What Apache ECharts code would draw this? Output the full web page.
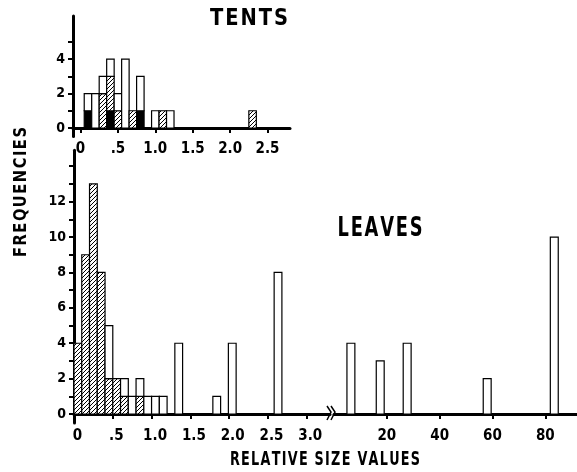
<!DOCTYPE html>
<html>
<head>
<meta charset="utf-8">
<script src="https://cdn.jsdelivr.net/npm/echarts@6/dist/echarts.min.js"></script>
<style>
  html, body { margin: 0; background: #fff; }
  #chart { width: 577px; height: 472px; }
</style>
</head>
<body>
<div id="chart"></div>
<script>
// TENTS: bin centres and counts per kind (stacked black / hatched / open)
var tentsBins    = [0.1, 0.2, 0.3, 0.4, 0.5, 0.6, 0.7, 0.8, 1.0, 1.1, 1.2, 2.3];
var tentsBlack   = [1, 0, 0, 1, 0, 0, 0, 1, 0, 0, 0, 0];
var tentsHatched = [0, 0, 2, 2, 1, 0, 1, 0, 0, 1, 0, 1];
var tentsOpen    = [1, 2, 1, 1, 1, 4, 0, 2, 1, 0, 1, 0];

// LEAVES, small values (0 - 3.0)
var leavesBins    = [0.05, 0.15, 0.25, 0.35, 0.45, 0.55, 0.65, 0.75, 0.85, 0.95, 1.05, 1.15, 1.35, 1.84, 2.04, 2.63];
var leavesHatched = [4, 9, 13, 8, 2, 2, 1, 0, 1, 0, 0, 0, 0, 0, 0, 0];
var leavesOpen    = [0, 0, 0, 0, 3, 0, 1, 1, 1, 1, 1, 1, 4, 1, 4, 8];

// LEAVES, large values (after the axis break)
var leavesFarBins = [6.4, 17.5, 27.7, 58, 83.4];
var leavesFar     = [4, 3, 4, 2, 10];

// ticks and labels
var tentsTicks  = [0, 0.5, 1, 1.5, 2, 2.5];
var leavesTicks = [0, 0.5, 1, 1.5, 2, 2.5, 3];
var farTicks    = [20, 40, 60, 80];
var tentsYTicks = [0, 1, 2, 3, 4, 5];
var tentsYLabels = [0, 2, 4];
var leavesYTicks = [0, 1, 2, 3, 4, 5, 6, 7, 8, 9, 10, 11, 12, 13, 14];
var leavesYLabels = [0, 2, 4, 6, 8, 10, 12];

var FONT = "'Liberation Sans Narrow', 'DejaVu Sans Condensed', 'DejaVu Sans', sans-serif";
var TITLE_FONT = "'DejaVu Sans', sans-serif";

// hatch pattern ( / / / )
var S = 4;
var hatch = document.createElement('canvas');
hatch.width = S; hatch.height = S;
var hc = hatch.getContext('2d');
hc.fillStyle = '#fff';
hc.fillRect(0, 0, S, S);
hc.strokeStyle = '#000';
hc.lineWidth = 1;
hc.beginPath();
hc.moveTo(-1, S + 1); hc.lineTo(S + 1, -1);
hc.moveTo(-1, 1); hc.lineTo(1, -1);
hc.moveTo(S - 1, S + 1); hc.lineTo(S + 1, S - 1);
hc.stroke();

var fills = ['#000', { image: hatch, repeat: 'repeat' }, '#fff'];

// build stacked rectangles: [centre, bottom, top, kind]
function stacks(bins, layers) {
  var out = [];
  bins.forEach(function (b, i) {
    var base = 0;
    layers.forEach(function (l) {
      var n = l[1][i];
      if (n > 0) {
        out.push([b, base, base + n, l[0]]);
        base += n;
      }
    });
  });
  return out;
}

function barItem(w) {
  return function (params, api) {
    var x = api.value(0);
    var p0 = api.coord([x - w / 2, api.value(2)]);
    var p1 = api.coord([x + w / 2, api.value(1)]);
    return {
      type: 'rect',
      shape: { x: p0[0], y: p0[1], width: p1[0] - p0[0], height: p1[1] - p0[1] },
      style: { fill: fills[api.value(3)], stroke: '#000', lineWidth: 1.2 }
    };
  };
}

function fmtX(v) {
  if (v === 0) return '0';
  if (v === 0.5) return '.5';
  return v.toFixed(1);
}

var lineStyle = { color: '#000', width: 3 };
var labelStyle = { color: '#000', fontFamily: FONT, fontWeight: 'bold', fontSize: 15 };

function xAxis(grid, min, max, ticks, fmt, margin, shift) {
  return {
    type: 'value', gridIndex: grid, min: min, max: max,
    axisLine: { onZero: true, lineStyle: lineStyle },
    axisTick: { customValues: ticks, length: 5, lineStyle: { color: '#000', width: 2 } },
    axisLabel: Object.assign({ customValues: ticks, formatter: fmt, margin: margin,
      padding: [0, 0, 0, shift || 0] }, labelStyle),
    splitLine: { show: false }
  };
}

function yAxis(grid, min, max, ticks, labels, show) {
  return {
    type: 'value', gridIndex: grid, min: min, max: max, show: show,
    axisLine: { onZero: false, lineStyle: lineStyle },
    axisTick: { customValues: ticks, length: 5, lineStyle: { color: '#000', width: 2 } },
    axisLabel: Object.assign({ customValues: labels, margin: 8 }, labelStyle, { fontSize: 14 }),
    splitLine: { show: false }
  };
}

// condensed, letter-spaced title text squeezed to a given width
var measure = document.createElement('canvas').getContext('2d');
function title(text, size, width, cx, cy, rot) {
  var spaced = text.split('').join('\u200a');
  var font = 'bold ' + size + 'px ' + TITLE_FONT;
  measure.font = font;
  var w = measure.measureText(spaced).width;
  return {
    type: 'text', x: cx, y: cy, rotation: rot || 0, scaleX: width / w,
    style: { text: spaced, fill: '#000', font: font, align: 'center', verticalAlign: 'middle' }
  };
}

var chart = echarts.init(document.getElementById('chart'));

chart.setOption({
  animation: false,
  backgroundColor: '#fff',
  grid: [
    { left: 73, top: 16, width: 217, height: 120.6 },
    { left: 74, top: 150.3, width: 256, height: 272.6 },
    { left: 334, top: 150.3, width: 243, height: 272.6 }
  ],
  xAxis: [
    xAxis(0, -0.1, 2.8, tentsTicks, fmtX, 5),
    xAxis(1, 0, 3.3, leavesTicks, fmtX, 6, 7),
    xAxis(2, 0, 92, farTicks, function (v) { return String(v); }, 6)
  ],
  yAxis: [
    yAxis(0, -0.5, 6.5, tentsYTicks, tentsYLabels, true),
    yAxis(1, -0.5, 14.9, leavesYTicks, leavesYLabels, true),
    yAxis(2, -0.5, 14.9, [], [], false)
  ],
  series: [
    {
      type: 'custom', xAxisIndex: 0, yAxisIndex: 0,
      renderItem: barItem(0.1),
      data: stacks(tentsBins, [[0, tentsBlack], [1, tentsHatched], [2, tentsOpen]])
    },
    {
      type: 'custom', xAxisIndex: 1, yAxisIndex: 1,
      renderItem: barItem(0.1),
      data: stacks(leavesBins, [[1, leavesHatched], [2, leavesOpen]])
    },
    {
      type: 'custom', xAxisIndex: 2, yAxisIndex: 2,
      renderItem: barItem(3),
      data: stacks(leavesFarBins, [[2, leavesFar]])
    }
  ],
  graphic: [
    title('TENTS', 23, 78, 249, 19),
    title('LEAVES', 27, 85, 380, 229),
    title('RELATIVE SIZE VALUES', 19, 190, 325, 460),
    title('FREQUENCIES', 18, 130, 21, 192, Math.PI / 2),
    // axis break mark
    { type: 'polyline', shape: { points: [[327, 406], [331, 412], [327, 420]] },
      style: { stroke: '#000', lineWidth: 1.5, fill: null } },
    { type: 'polyline', shape: { points: [[331, 406], [335, 412], [331, 420]] },
      style: { stroke: '#000', lineWidth: 1.5, fill: null } }
  ]
});
</script>
</body>
</html>
